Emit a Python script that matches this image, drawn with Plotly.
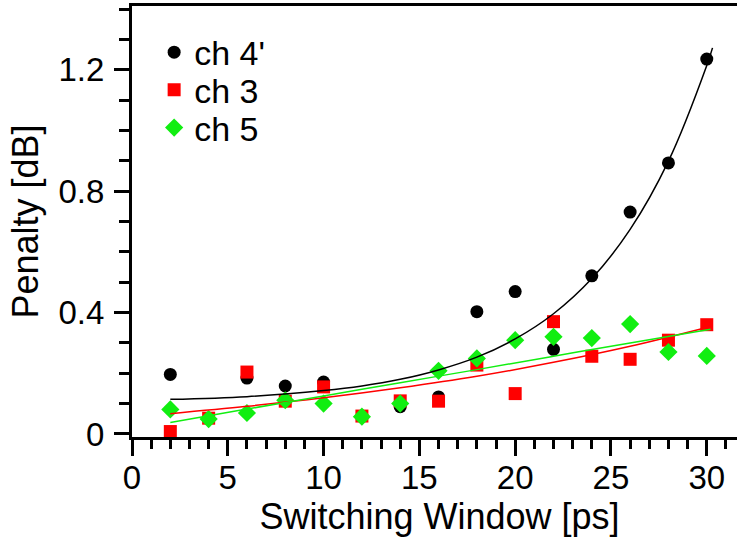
import plotly.graph_objects as go

# measured points
x_ch4 = [2, 6, 8, 10, 14, 16, 18, 20, 22, 24, 26, 28, 30]
y_ch4 = [0.196, 0.184, 0.158, 0.171, 0.090, 0.122, 0.403, 0.469, 0.279, 0.521, 0.731, 0.893, 1.235]

x_ch3 = [2, 4, 6, 8, 10, 12, 14, 16, 18, 20, 22, 24, 26, 28, 30]
y_ch3 = [0.008, 0.052, 0.204, 0.108, 0.155, 0.059, 0.109, 0.108, 0.227, 0.133, 0.370, 0.256, 0.246, 0.309, 0.360]

x_ch5 = [2, 4, 6, 8, 10, 12, 14, 16, 18, 20, 22, 24, 26, 28, 30]
y_ch5 = [0.081, 0.049, 0.069, 0.111, 0.100, 0.057, 0.100, 0.208, 0.249, 0.309, 0.320, 0.316, 0.362, 0.270, 0.257]

# fitted curves
fit4_x = [2, 6, 10, 12, 14, 16, 18, 20, 22, 24, 26, 28, 30, 30.3]
fit4_y = [0.114, 0.123, 0.143, 0.158, 0.180, 0.211, 0.253, 0.313, 0.396, 0.512, 0.674, 0.899, 1.214, 1.272]
fit3_x = [2, 6, 10, 14, 18, 22, 26, 30]
fit3_y = [0.067, 0.091, 0.119, 0.152, 0.190, 0.236, 0.289, 0.351]
fit5_x = [2, 6, 10, 14, 18, 22, 26, 30.2]
fit5_y = [0.038, 0.082, 0.125, 0.169, 0.212, 0.256, 0.300, 0.345]

x_ticks = [0, 5, 10, 15, 20, 25, 30]
y_ticks = [0, 0.4, 0.8, 1.2]
y_ticktext = ["0", "0.4", "0.8", "1.2"]

GREEN = "#11ee11"
FONT = "Liberation Sans, Arial, sans-serif"

fig = go.Figure()

fig.add_trace(go.Scatter(x=x_ch4, y=y_ch4, mode="markers", name="ch 4'", legend="legend",
                         marker=dict(symbol="circle", size=13, color="black")))
fig.add_trace(go.Scatter(x=x_ch3, y=y_ch3, mode="markers", name="ch 3", legend="legend2",
                         marker=dict(symbol="square", size=13, color="red")))
fig.add_trace(go.Scatter(x=x_ch5, y=y_ch5, mode="markers", name="ch 5", legend="legend3",
                         marker=dict(symbol="diamond", size=14, color=GREEN)))

for fx, fy, c in [(fit4_x, fit4_y, "black"), (fit3_x, fit3_y, "red"), (fit5_x, fit5_y, GREEN)]:
    fig.add_trace(go.Scatter(x=fx, y=fy, mode="lines", showlegend=False, hoverinfo="skip",
                             line=dict(color=c, width=1.5, shape="spline")))

# plot area runs a little past the right edge of the window, like the original
leg = dict(x=0.036, xanchor="left", yanchor="middle", font=dict(size=34),
           bgcolor="rgba(0,0,0,0)")
fig.update_layout(
    width=747, height=544,
    margin=dict(l=132, r=0, t=6, b=107),
    paper_bgcolor="white", plot_bgcolor="white",
    font=dict(family=FONT, color="black", size=33),
    legend=dict(leg, y=0.892),
    legend2=dict(leg, y=0.805),
    legend3=dict(leg, y=0.717),
)

fig.update_xaxes(
    range=[0, 32.1], showgrid=False, zeroline=False,
    showline=True, linewidth=3, linecolor="black", mirror=True,
    ticks="outside", ticklen=16, tickwidth=3, tickcolor="black",
    tickvals=x_ticks, tickfont=dict(size=33), ticklabelstandoff=-7,
    minor=dict(tickmode="linear", tick0=0, dtick=1, ticks="outside",
               ticklen=9, tickwidth=3, tickcolor="black"),
    title=dict(text="Switching Window [ps]", font=dict(size=36), standoff=0),
)
fig.update_yaxes(
    range=[-0.01, 1.41], showgrid=False, zeroline=False,
    showline=True, linewidth=3, linecolor="black",
    ticks="outside", ticklen=15, tickwidth=3, tickcolor="black",
    tickvals=y_ticks, ticktext=y_ticktext, tickfont=dict(size=33), ticklabelstandoff=3,
    minor=dict(tickmode="linear", tick0=0, dtick=0.1, ticks="outside",
               ticklen=10, tickwidth=3, tickcolor="black"),
    title=dict(text="Penalty [dB]", font=dict(size=36), standoff=9),
)

fig.write_html("out.html", config={"displayModeBar": False},
               post_script="document.body.style.margin='0';document.body.style.overflow='hidden';")
